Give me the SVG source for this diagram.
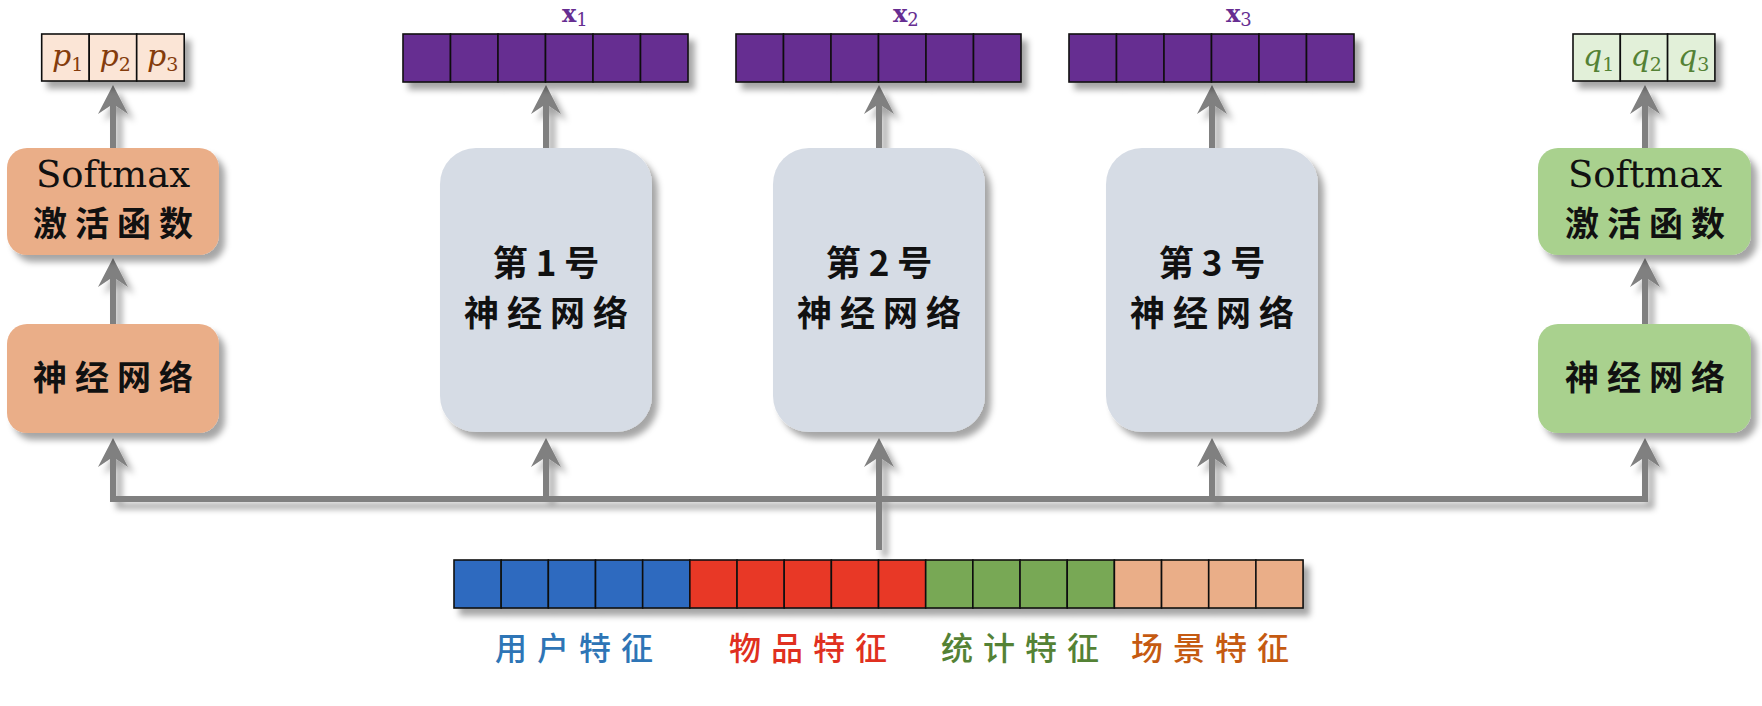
<svg xmlns="http://www.w3.org/2000/svg" width="1762" height="706" viewBox="0 0 1762 706">
<style>
.cjk{font-family:"Noto Sans CJK SC","Noto Sans CJK JP",sans-serif;font-weight:500;fill:#111;}
.box{font-size:34px;letter-spacing:8px;font-weight:700;}
.big{font-size:35px;letter-spacing:8px;font-weight:700;}
.sm{font-family:"DejaVu Serif","Liberation Serif",serif;font-size:37px;fill:#111;}
.cell{stroke:#111;stroke-width:1.6;}
.pv{font-family:"DejaVu Serif","Liberation Serif",serif;font-style:italic;font-size:30px;}
.sub{font-style:normal;font-size:19px;}
.xl{font-family:"DejaVu Serif","Liberation Serif",serif;font-weight:bold;font-size:24px;fill:#662D91;}
.xs{font-weight:normal;font-size:18px;}
.lab{font-size:32px;letter-spacing:10px;}
.conn{fill:none;stroke:#808080;stroke-width:6;}
</style>
<defs>
<filter id="sh" x="-10%" y="-10%" width="130%" height="140%">
<feDropShadow dx="6" dy="7" stdDeviation="3" flood-color="#000" flood-opacity="0.35"/>
</filter>
<marker id="ah" viewBox="0 0 30 30" markerUnits="userSpaceOnUse" markerWidth="30" markerHeight="30" refX="19" refY="15" orient="auto-start-reverse">
<path d="M0,0 L29,15 L0,30 L10,15 Z" fill="#808080"/>
</marker>
</defs>
<rect width="1762" height="706" fill="#ffffff"/>

<g id="connectors" filter="url(#sh)">
<polyline class="conn" points="113,448 113,499 1645,499 1645,448" marker-start="url(#ah)" marker-end="url(#ah)"/>
<line class="conn" x1="546" y1="499" x2="546" y2="448" marker-end="url(#ah)"/>
<line class="conn" x1="879" y1="550" x2="879" y2="448" marker-end="url(#ah)"/>
<line class="conn" x1="1212" y1="499" x2="1212" y2="448" marker-end="url(#ah)"/>
<line class="conn" x1="113" y1="324" x2="113" y2="268" marker-end="url(#ah)"/>
<line class="conn" x1="113" y1="148" x2="113" y2="95" marker-end="url(#ah)"/>
<line class="conn" x1="1645" y1="324" x2="1645" y2="268" marker-end="url(#ah)"/>
<line class="conn" x1="1645" y1="148" x2="1645" y2="95" marker-end="url(#ah)"/>
<line class="conn" x1="546" y1="148" x2="546" y2="95" marker-end="url(#ah)"/>
<line class="conn" x1="879" y1="148" x2="879" y2="95" marker-end="url(#ah)"/>
<line class="conn" x1="1212" y1="148" x2="1212" y2="95" marker-end="url(#ah)"/>
</g>

<g id="p-vector">
<g filter="url(#sh)">
<rect class="cell" x="41.7" y="34" width="47.5" height="47" fill="#FBE5D6"/>
<rect class="cell" x="89.2" y="34" width="47.5" height="47" fill="#FBE5D6"/>
<rect class="cell" x="136.7" y="34" width="47.5" height="47" fill="#FBE5D6"/>
</g>
<text class="pv" fill="#843C0C" x="52" y="66">p<tspan class="sub" dy="5">1</tspan></text>
<text class="pv" fill="#843C0C" x="99.5" y="66">p<tspan class="sub" dy="5">2</tspan></text>
<text class="pv" fill="#843C0C" x="147" y="66">p<tspan class="sub" dy="5">3</tspan></text>
</g>

<g id="q-vector">
<g filter="url(#sh)">
<rect class="cell" x="1573" y="34" width="47.3" height="47" fill="#E2F0D9"/>
<rect class="cell" x="1620.3" y="34" width="47.3" height="47" fill="#E2F0D9"/>
<rect class="cell" x="1667.6" y="34" width="47.3" height="47" fill="#E2F0D9"/>
</g>
<text class="pv" fill="#548235" x="1583" y="66">q<tspan class="sub" dy="5">1</tspan></text>
<text class="pv" fill="#548235" x="1630.5" y="66">q<tspan class="sub" dy="5">2</tspan></text>
<text class="pv" fill="#548235" x="1678" y="66">q<tspan class="sub" dy="5">3</tspan></text>
</g>

<g id="left-softmax">
<rect x="7" y="148" width="212" height="107" rx="20" fill="#EAAE88" filter="url(#sh)"/>
<text class="sm" x="113" y="187" text-anchor="middle">Softmax</text>
<text class="cjk box" x="117" y="236" text-anchor="middle">激活函数</text>
</g>
<g id="left-nn">
<rect x="7" y="324" width="212" height="109" rx="20" fill="#EAAE88" filter="url(#sh)"/>
<text class="cjk box" x="117" y="390" text-anchor="middle">神经网络</text>
</g>

<g id="right-softmax">
<rect x="1538" y="148" width="213" height="107" rx="20" fill="#A9D18E" filter="url(#sh)"/>
<text class="sm" x="1645" y="187" text-anchor="middle">Softmax</text>
<text class="cjk box" x="1649" y="236" text-anchor="middle">激活函数</text>
</g>
<g id="right-nn">
<rect x="1538" y="324" width="213" height="109" rx="20" fill="#A9D18E" filter="url(#sh)"/>
<text class="cjk box" x="1649" y="390" text-anchor="middle">神经网络</text>
</g>

<g id="nn1">
<rect x="440" y="148" width="212" height="284" rx="36" fill="#D6DCE5" filter="url(#sh)"/>
<text class="cjk big" x="550" y="276" text-anchor="middle">第1号</text>
<text class="cjk big" x="550" y="326" text-anchor="middle">神经网络</text>
</g>
<g id="nn2">
<rect x="773" y="148" width="212" height="284" rx="36" fill="#D6DCE5" filter="url(#sh)"/>
<text class="cjk big" x="883" y="276" text-anchor="middle">第2号</text>
<text class="cjk big" x="883" y="326" text-anchor="middle">神经网络</text>
</g>
<g id="nn3">
<rect x="1106" y="148" width="212" height="284" rx="36" fill="#D6DCE5" filter="url(#sh)"/>
<text class="cjk big" x="1216" y="276" text-anchor="middle">第3号</text>
<text class="cjk big" x="1216" y="326" text-anchor="middle">神经网络</text>
</g>

<g id="x1-vector">
<g filter="url(#sh)" fill="#662D91">
<rect class="cell" x="403" y="34" width="47.5" height="48"/>
<rect class="cell" x="450.5" y="34" width="47.5" height="48"/>
<rect class="cell" x="498" y="34" width="47.5" height="48"/>
<rect class="cell" x="545.5" y="34" width="47.5" height="48"/>
<rect class="cell" x="593" y="34" width="47.5" height="48"/>
<rect class="cell" x="640.5" y="34" width="47.5" height="48"/>
</g>
<text class="xl" x="562" y="22">x<tspan class="xs" dy="4">1</tspan></text>
</g>
<g id="x2-vector">
<g filter="url(#sh)" fill="#662D91">
<rect class="cell" x="736" y="34" width="47.5" height="48"/>
<rect class="cell" x="783.5" y="34" width="47.5" height="48"/>
<rect class="cell" x="831" y="34" width="47.5" height="48"/>
<rect class="cell" x="878.5" y="34" width="47.5" height="48"/>
<rect class="cell" x="926" y="34" width="47.5" height="48"/>
<rect class="cell" x="973.5" y="34" width="47.5" height="48"/>
</g>
<text class="xl" x="893" y="22">x<tspan class="xs" dy="4">2</tspan></text>
</g>
<g id="x3-vector">
<g filter="url(#sh)" fill="#662D91">
<rect class="cell" x="1069" y="34" width="47.5" height="48"/>
<rect class="cell" x="1116.5" y="34" width="47.5" height="48"/>
<rect class="cell" x="1164" y="34" width="47.5" height="48"/>
<rect class="cell" x="1211.5" y="34" width="47.5" height="48"/>
<rect class="cell" x="1259" y="34" width="47.5" height="48"/>
<rect class="cell" x="1306.5" y="34" width="47.5" height="48"/>
</g>
<text class="xl" x="1226" y="22">x<tspan class="xs" dy="4">3</tspan></text>
</g>

<g id="feature-vector">
<g filter="url(#sh)">
<rect class="cell" x="454" y="560" width="47.17" height="48" fill="#2E6BBF"/>
<rect class="cell" x="501.17" y="560" width="47.17" height="48" fill="#2E6BBF"/>
<rect class="cell" x="548.34" y="560" width="47.17" height="48" fill="#2E6BBF"/>
<rect class="cell" x="595.51" y="560" width="47.17" height="48" fill="#2E6BBF"/>
<rect class="cell" x="642.68" y="560" width="47.17" height="48" fill="#2E6BBF"/>
<rect class="cell" x="689.85" y="560" width="47.17" height="48" fill="#E83828"/>
<rect class="cell" x="737.02" y="560" width="47.17" height="48" fill="#E83828"/>
<rect class="cell" x="784.19" y="560" width="47.17" height="48" fill="#E83828"/>
<rect class="cell" x="831.36" y="560" width="47.17" height="48" fill="#E83828"/>
<rect class="cell" x="878.53" y="560" width="47.17" height="48" fill="#E83828"/>
<rect class="cell" x="925.7" y="560" width="47.17" height="48" fill="#78A854"/>
<rect class="cell" x="972.87" y="560" width="47.17" height="48" fill="#78A854"/>
<rect class="cell" x="1020.04" y="560" width="47.17" height="48" fill="#78A854"/>
<rect class="cell" x="1067.21" y="560" width="47.17" height="48" fill="#78A854"/>
<rect class="cell" x="1114.38" y="560" width="47.17" height="48" fill="#EAAE88"/>
<rect class="cell" x="1161.55" y="560" width="47.17" height="48" fill="#EAAE88"/>
<rect class="cell" x="1208.72" y="560" width="47.17" height="48" fill="#EAAE88"/>
<rect class="cell" x="1255.89" y="560" width="47.17" height="48" fill="#EAAE88"/>
</g>
</g>

<g id="feature-labels">
<text class="cjk lab" x="579" y="660" text-anchor="middle" style="fill:#2E75B6">用户特征</text>
<text class="cjk lab" x="813" y="660" text-anchor="middle" style="fill:#E03020">物品特征</text>
<text class="cjk lab" x="1025" y="660" text-anchor="middle" style="fill:#548235">统计特征</text>
<text class="cjk lab" x="1215" y="660" text-anchor="middle" style="fill:#C55A11">场景特征</text>
</g>
</svg>
